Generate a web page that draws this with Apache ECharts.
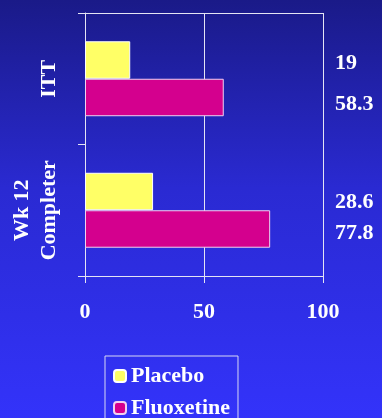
<!DOCTYPE html>
<html>
<head>
<meta charset="utf-8">
<script src="https://cdn.jsdelivr.net/npm/echarts@6/dist/echarts.min.js"></script>
<style>
  html, body { margin: 0; padding: 0; }
  body { background: linear-gradient(to bottom, #1a1a88 0%, #2a2ad2 45%, #3333fa 100%); }
  #chart { width: 382px; height: 418px; }
</style>
</head>
<body>
<div id="chart"></div>
<script>
// Response rates (%) by analysis population
const categories = ['ITT', 'Wk 12\nCompleter'];
const placebo = [19, 28.6];
const fluoxetine = [58.3, 77.8];
const xTicks = [0, 50, 100];

const serif = '"Liberation Serif", "DejaVu Serif", serif';
const lineColor = '#e4e4f4';

// value labels sit in a column right of the plot, nudged slightly below each bar's centre
const labelNudge = { Placebo: [3, 11], Fluoxetine: [7, 4] };

const chart = echarts.init(document.getElementById('chart'));

const valueLabel = {
  show: true,
  position: 'right',
  color: '#fff',
  fontFamily: serif,
  fontWeight: 'bold',
  fontSize: 22
};

function columnLayout(p) {
  const name = p.seriesIndex === 0 ? 'Placebo' : 'Fluoxetine';
  return {
    x: 335,
    y: p.rect.y + p.rect.height / 2 + labelNudge[name][p.dataIndex],
    align: 'left',
    verticalAlign: 'middle'
  };
}

chart.setOption({
  backgroundColor: 'transparent',
  animation: false,
  grid: { left: 85, right: 59, top: 13, bottom: 142, containLabel: false },
  legend: {
    orient: 'vertical',
    left: 105,
    top: 356,
    height: 80,
    padding: [9, 8, 9, 8],
    itemGap: 10,
    itemWidth: 12,
    itemHeight: 12,
    borderColor: '#d8d8f4',
    borderWidth: 1,
    textStyle: { color: '#fff', fontFamily: serif, fontWeight: 'bold', fontSize: 22 },
    data: ['Placebo', 'Fluoxetine']
  },
  xAxis: [{
    type: 'value',
    min: xTicks[0],
    max: xTicks[xTicks.length - 1],
    interval: 50,
    axisLine: { show: true, lineStyle: { color: lineColor, width: 1 } },
    axisTick: { show: true, length: 7, lineStyle: { color: lineColor } },
    splitLine: { show: true, lineStyle: { color: lineColor, width: 1 } },
    axisLabel: { color: '#fff', fontFamily: serif, fontWeight: 'bold', fontSize: 22, margin: 25 }
  }, {
    type: 'value',
    position: 'top',
    min: xTicks[0],
    max: xTicks[xTicks.length - 1],
    axisLine: { show: true, lineStyle: { color: lineColor, width: 1 } },
    axisTick: { show: false },
    splitLine: { show: false },
    axisLabel: { show: false }
  }],
  yAxis: {
    type: 'category',
    inverse: true,
    data: categories,
    axisLine: { show: true, lineStyle: { color: lineColor, width: 1 } },
    axisTick: { show: true, length: 7, lineStyle: { color: lineColor } },
    axisLabel: {
      rotate: 90,
      color: '#fff',
      fontFamily: serif,
      fontWeight: 'bold',
      fontSize: 22,
      lineHeight: 27,
      margin: 22
    }
  },
  series: [{
    name: 'Placebo',
    type: 'bar',
    data: placebo,
    barGap: '0%',
    barCategoryGap: '43%',
    itemStyle: { color: '#ffff66', borderColor: '#ffffff', borderWidth: 1 },
    label: valueLabel,
    labelLayout: columnLayout
  }, {
    name: 'Fluoxetine',
    type: 'bar',
    data: fluoxetine,
    barGap: '0%',
    barCategoryGap: '43%',
    itemStyle: { color: '#d4008e', borderColor: '#f0d0f0', borderWidth: 1 },
    label: valueLabel,
    labelLayout: columnLayout
  }]
});
</script>
</body>
</html>
